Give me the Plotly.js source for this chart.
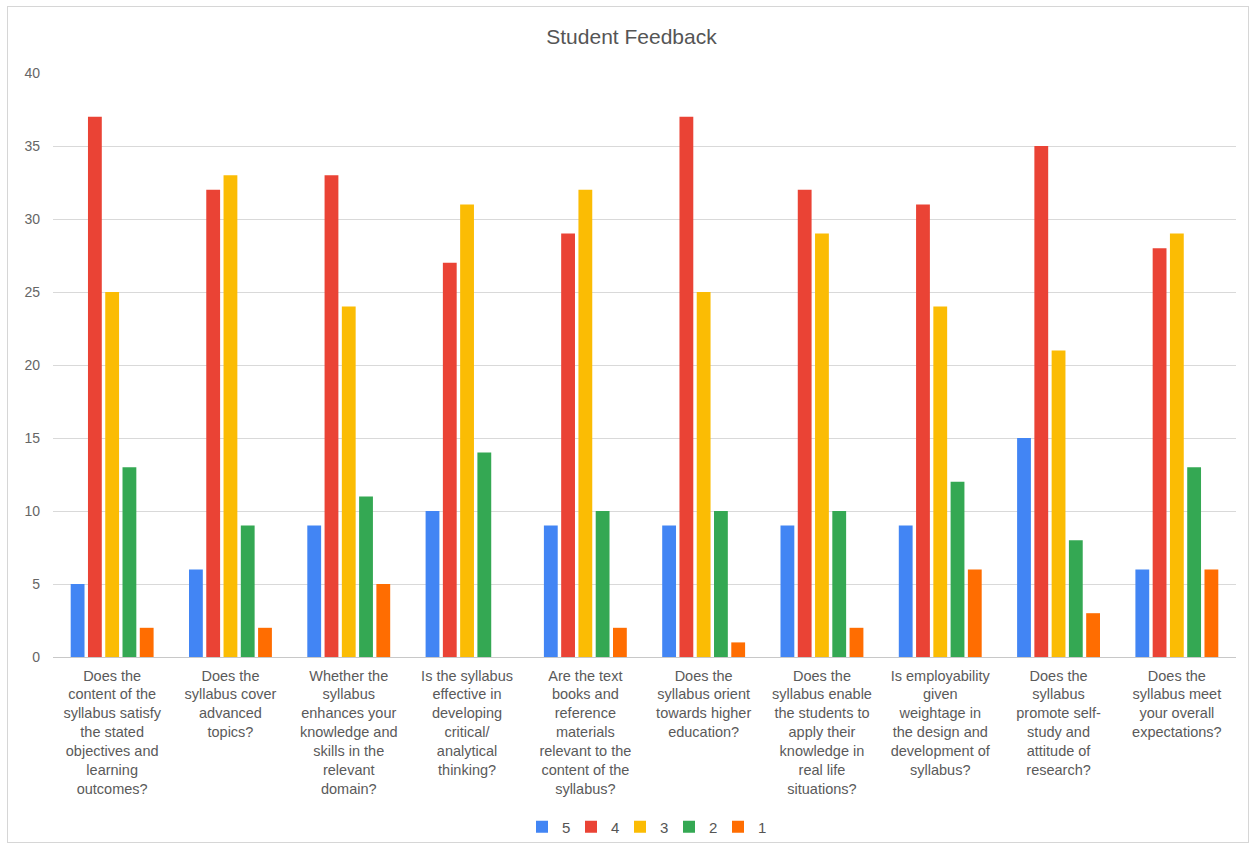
<!DOCTYPE html>
<html>
<head>
<meta charset="utf-8">
<script src="https://cdn.plot.ly/plotly-3.0.1.min.js"></script>
<style>
html,body{margin:0;padding:0;background:#fff;}
#wrap{position:relative;width:1253px;height:847px;}
#chart{position:absolute;left:0;top:0;width:1253px;height:847px;}
#frame{position:absolute;left:7px;top:6px;width:1240px;height:835px;border:1px solid #d6d6d6;pointer-events:none;}
</style>
</head>
<body>
<div id="wrap"><div id="chart"></div><div id="frame"></div></div>
<script>
const categories = [
  "Does the<br>content of the<br>syllabus satisfy<br>the stated<br>objectives and<br>learning<br>outcomes?",
  "Does the<br>syllabus cover<br>advanced<br>topics?",
  "Whether the<br>syllabus<br>enhances your<br>knowledge and<br>skills in the<br>relevant<br>domain?",
  "Is the syllabus<br>effective in<br>developing<br>critical/<br>analytical<br>thinking?",
  "Are the text<br>books and<br>reference<br>materials<br>relevant to the<br>content of the<br>syllabus?",
  "Does the<br>syllabus orient<br>towards higher<br>education?",
  "Does the<br>syllabus enable<br>the students to<br>apply their<br>knowledge in<br>real life<br>situations?",
  "Is employability<br>given<br>weightage in<br>the design and<br>development of<br>syllabus?",
  "Does the<br>syllabus<br>promote self-<br>study and<br>attitude of<br>research?",
  "Does the<br>syllabus meet<br>your overall<br>expectations?"
];
const seriesNames = ["5", "4", "3", "2", "1"];
const s5 = [5, 6, 9, 10, 9, 9, 9, 9, 15, 6];
const s4 = [37, 32, 33, 27, 29, 37, 32, 31, 35, 28];
const s3 = [25, 33, 24, 31, 32, 25, 29, 24, 21, 29];
const s2 = [13, 9, 11, 14, 10, 10, 10, 12, 8, 13];
const s1 = [2, 2, 5, 0, 2, 1, 2, 6, 3, 6];
const colors = ["#4285F4", "#EA4335", "#FBBC04", "#34A853", "#FF6D01"];

const values = [s5, s4, s3, s2, s1];
const traces = values.map((v, i) => ({
  type: "bar",
  name: seriesNames[i],
  x: categories,
  y: v,
  marker: {color: colors[i]},
  hoverinfo: "x+y+name"
}));

const layout = {
  width: 1253,
  height: 847,
  paper_bgcolor: "#ffffff",
  plot_bgcolor: "#ffffff",
  font: {family: "Arial, 'Liberation Sans', sans-serif", color: "#555555"},
  title: {
    text: "Student Feedback",
    font: {size: 21, color: "#555555", family: "Arial, 'Liberation Sans', sans-serif"},
    x: 0.504, xanchor: "center",
    y: 1 - 37/847, yanchor: "middle", yref: "container"
  },
  margin: {l: 53, r: 17, t: 73, b: 190, autoexpand: false},
  barmode: "group",
  bargap: 0.27,
  bargroupgap: 0.2,
  xaxis: {
    type: "category",
    tickangle: 0,
    automargin: false,
    showline: false,
    showgrid: false,
    ticks: "",
    ticklabelstandoff: 8,
    tickfont: {size: 14.5, color: "#5a5a5a"},
  },
  yaxis: {
    range: [0, 40],
    dtick: 5,
    tick0: 0,
    automargin: false,
    showgrid: true,
    gridcolor: "#d9d9d9",
    gridwidth: 1,
    zeroline: true,
    zerolinecolor: "#c8c8c8",
    zerolinewidth: 1,
    showline: false,
    ticks: "",
    ticklabelstandoff: 12,
    tickfont: {size: 14, color: "#666666"}
  },
  legend: {
    orientation: "h",
    x: 0.5, xanchor: "center",
    y: (657 - 827) / 584, yanchor: "middle",
    font: {size: 15, color: "#555555"},
    itemwidth: 30,
    entrywidth: 4,
    traceorder: "normal"
  },
  showlegend: true
};

Plotly.newPlot("chart", traces, layout, {displayModeBar: false, staticPlot: true});
</script>
</body>
</html>
